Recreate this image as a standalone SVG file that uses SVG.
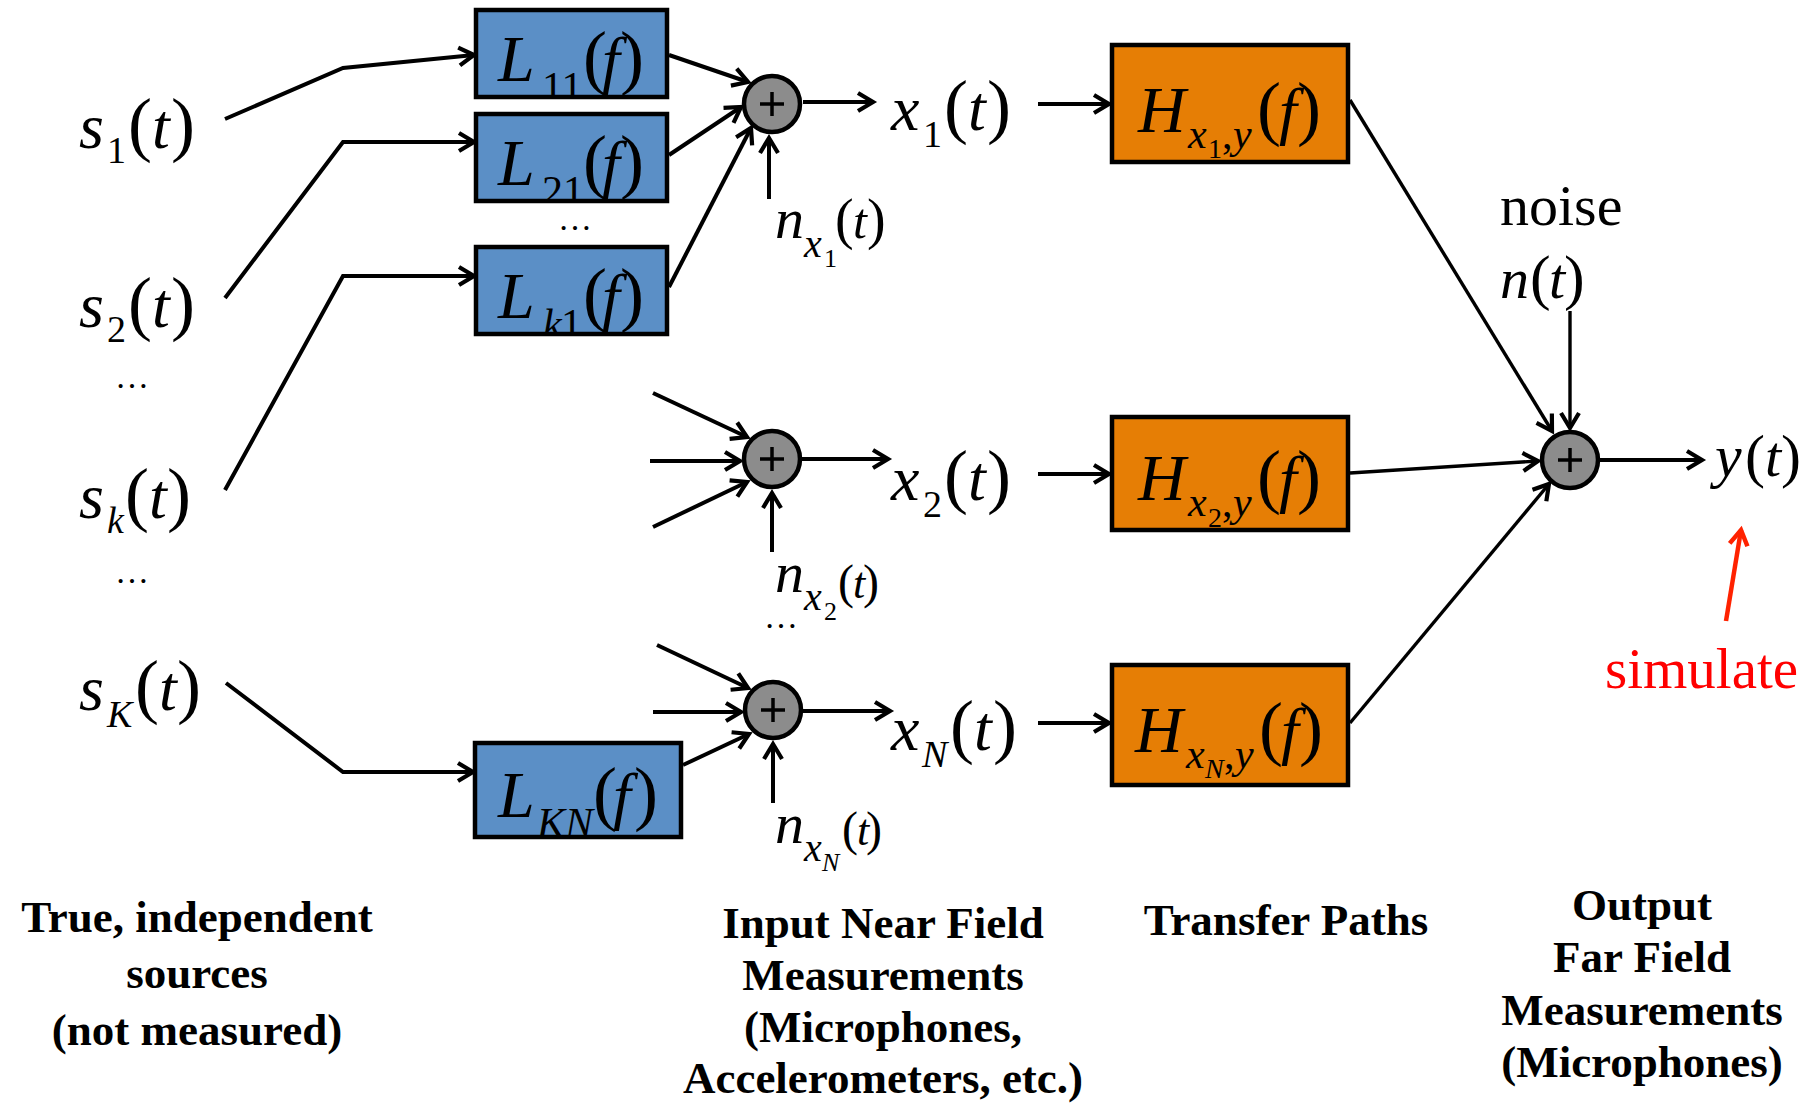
<svg xmlns="http://www.w3.org/2000/svg" width="1813" height="1108" viewBox="0 0 1813 1108">
  <defs>
    <style>
      .box{stroke:#000;stroke-width:4.5}
      .blue{fill:#5b8fc6}
      .orange{fill:#e67e05}
      .sum circle{fill:#8c8c8c;stroke:#000;stroke-width:4.5}
      .sum path{fill:none;stroke:#000;stroke-width:3.5}
      .conn{fill:none;stroke:#000;stroke-width:4;marker-end:url(#ah)}
      .thin{stroke-width:3.4}
      .red{fill:none;stroke:#ff2200;stroke-width:4.5;marker-end:url(#ahr)}
      .m{font-family:"Liberation Serif","Times New Roman",serif;font-style:italic;font-size:64px;fill:#000}
      .up{font-style:normal}
      .rm{font-family:"Liberation Serif","Times New Roman",serif;font-size:58px;fill:#000}
      .cap{font-family:"Liberation Serif","Times New Roman",serif;font-weight:bold;font-size:45px;text-anchor:middle;fill:#000}
      .dots{font-family:"Liberation Serif","Times New Roman",serif;font-size:34px;text-anchor:middle;fill:#000}
    </style>
    <marker id="ah" markerUnits="userSpaceOnUse" markerWidth="24" markerHeight="24" viewBox="-18 -12 22 24" refX="0" refY="0" orient="auto" overflow="visible">
      <path d="M-15,-9 L0,0 L-15,9" fill="none" stroke="#000" stroke-width="4.2"/>
    </marker>
    <marker id="ahr" markerUnits="userSpaceOnUse" markerWidth="24" markerHeight="24" viewBox="-18 -12 22 24" refX="0" refY="0" orient="auto" overflow="visible">
      <path d="M-15,-9 L0,0 L-15,9" fill="none" stroke="#ff2200" stroke-width="4.5"/>
    </marker>
    <clipPath id="cL11"><rect x="478" y="12" width="187" height="83"/></clipPath>
    <clipPath id="cL21"><rect x="478" y="116" width="187" height="83"/></clipPath>
    <clipPath id="cLk1"><rect x="478" y="249" width="187" height="83"/></clipPath>
    <clipPath id="cLKN"><rect x="477" y="745" width="202" height="90"/></clipPath>
    <clipPath id="cH1"><rect x="1114" y="47" width="232" height="113"/></clipPath>
    <clipPath id="cH2"><rect x="1114" y="419" width="232" height="109"/></clipPath>
    <clipPath id="cHN"><rect x="1114" y="667" width="232" height="116"/></clipPath>
  </defs>

  <rect width="1813" height="1108" fill="#fff"/>

  <!-- connectors -->
  <g id="connectors">
    <polyline class="conn" points="225,119 343,68 474,55"/>
    <polyline class="conn" points="225,298 343,142 474,142"/>
    <polyline class="conn" points="225,490 343,276 474,276"/>
    <polyline class="conn" points="226,683 343,772 473,772"/>
    <line class="conn" x1="669" y1="55" x2="748" y2="82"/>
    <line class="conn" x1="669" y1="155" x2="741" y2="107"/>
    <line class="conn" x1="669" y1="287" x2="751" y2="128"/>
    <line class="conn" x1="769" y1="199" x2="769" y2="138"/>
    <line class="conn" x1="803" y1="102" x2="873" y2="102"/>
    <line class="conn" x1="653" y1="393" x2="747" y2="437"/>
    <line class="conn" x1="650" y1="461" x2="740" y2="461"/>
    <line class="conn" x1="653" y1="527" x2="747" y2="482"/>
    <line class="conn" x1="772" y1="552" x2="772" y2="493"/>
    <line class="conn" x1="802" y1="459" x2="888" y2="459"/>
    <line class="conn" x1="657" y1="645" x2="748" y2="688"/>
    <line class="conn" x1="653" y1="712" x2="741" y2="712"/>
    <line class="conn" x1="683" y1="765" x2="749" y2="734"/>
    <line class="conn" x1="773" y1="803" x2="773" y2="744"/>
    <line class="conn" x1="803" y1="711" x2="890" y2="711"/>
    <line class="conn" x1="1038" y1="104" x2="1109" y2="104"/>
    <line class="conn" x1="1038" y1="474" x2="1109" y2="474"/>
    <line class="conn" x1="1038" y1="723" x2="1109" y2="723"/>
    <line class="conn thin" x1="1350" y1="100" x2="1552" y2="431"/>
    <line class="conn thin" x1="1350" y1="473" x2="1538" y2="461"/>
    <line class="conn thin" x1="1350" y1="723" x2="1549" y2="484"/>
    <line class="conn thin" x1="1570" y1="311" x2="1570" y2="428"/>
    <line class="conn" x1="1600" y1="460" x2="1702" y2="460"/>
    <line class="red" x1="1726" y1="621" x2="1741" y2="530"/>
  </g>

  <!-- transfer blocks L -->
  <g id="L11">
    <rect class="box blue" x="476" y="10" width="191" height="87"/>
    <text class="m" clip-path="url(#cL11)"><tspan x="498" y="81" font-size="66">L</tspan><tspan class="up" x="542" y="101" font-size="42">11</tspan><tspan class="up" x="583" y="81" font-size="72">(</tspan><tspan x="602" y="81">f</tspan><tspan class="up" x="620" y="81" font-size="72">)</tspan></text>
  </g>
  <g id="L21">
    <rect class="box blue" x="476" y="114" width="191" height="87"/>
    <text class="m" clip-path="url(#cL21)"><tspan x="498" y="185" font-size="66">L</tspan><tspan class="up" x="542" y="205" font-size="42">21</tspan><tspan class="up" x="583" y="185" font-size="72">(</tspan><tspan x="602" y="185">f</tspan><tspan class="up" x="620" y="185" font-size="72">)</tspan></text>
  </g>
  <text class="dots" x="575" y="230">…</text>
  <g id="Lk1">
    <rect class="box blue" x="476" y="247" width="191" height="87"/>
    <text class="m" clip-path="url(#cLk1)"><tspan x="498" y="318" font-size="66">L</tspan><tspan x="543" y="338" font-size="42">k</tspan><tspan class="up" x="561" y="338" font-size="42">1</tspan><tspan class="up" x="583" y="318" font-size="72">(</tspan><tspan x="602" y="318">f</tspan><tspan class="up" x="620" y="318" font-size="72">)</tspan></text>
  </g>
  <g id="LKN">
    <rect class="box blue" x="475" y="743" width="206" height="94"/>
    <text class="m" clip-path="url(#cLKN)"><tspan x="498" y="817" font-size="66">L</tspan><tspan x="537" y="837" font-size="42">KN</tspan><tspan class="up" x="593" y="817" font-size="72">(</tspan><tspan x="613" y="817">f</tspan><tspan class="up" x="634" y="817" font-size="72">)</tspan></text>
  </g>

  <!-- summing junctions -->
  <g id="sum1" class="sum"><circle cx="772" cy="104" r="28"/><path d="M760,104h24M772,92v24"/></g>
  <g id="sum2" class="sum"><circle cx="772" cy="459" r="28"/><path d="M760,459h24M772,447v24"/></g>
  <g id="sumN" class="sum"><circle cx="773" cy="710" r="28"/><path d="M761,710h24M773,698v24"/></g>
  <g id="sumOut" class="sum"><circle cx="1570" cy="460" r="28"/><path d="M1558,460h24M1570,448v24"/></g>

  <!-- transfer paths H -->
  <g id="H1">
    <rect class="box orange" x="1112" y="45" width="236" height="117"/>
    <text class="m" clip-path="url(#cH1)"><tspan x="1138" y="132" font-size="66">H</tspan><tspan x="1188" y="148" font-size="42">x</tspan><tspan class="up" x="1208" y="158" font-size="28">1</tspan><tspan class="up" x="1222" y="148" font-size="42">,</tspan><tspan x="1233" y="148" font-size="42">y</tspan><tspan class="up" x="1257" y="132" font-size="72">(</tspan><tspan x="1279" y="132">f</tspan><tspan class="up" x="1297" y="132" font-size="72">)</tspan></text>
  </g>
  <g id="H2">
    <rect class="box orange" x="1112" y="417" width="236" height="113"/>
    <text class="m" clip-path="url(#cH2)"><tspan x="1138" y="500" font-size="66">H</tspan><tspan x="1188" y="516" font-size="42">x</tspan><tspan class="up" x="1208" y="527" font-size="28">2</tspan><tspan class="up" x="1222" y="516" font-size="42">,</tspan><tspan x="1233" y="516" font-size="42">y</tspan><tspan class="up" x="1257" y="500" font-size="72">(</tspan><tspan x="1279" y="500">f</tspan><tspan class="up" x="1297" y="500" font-size="72">)</tspan></text>
  </g>
  <g id="HN">
    <rect class="box orange" x="1112" y="665" width="236" height="120"/>
    <text class="m" clip-path="url(#cHN)"><tspan x="1135" y="752" font-size="66">H</tspan><tspan x="1186" y="768" font-size="42">x</tspan><tspan x="1205" y="778" font-size="28">N</tspan><tspan class="up" x="1224" y="768" font-size="42">,</tspan><tspan x="1235" y="768" font-size="42">y</tspan><tspan class="up" x="1259" y="752" font-size="72">(</tspan><tspan x="1281" y="752">f</tspan><tspan class="up" x="1299" y="752" font-size="72">)</tspan></text>
  </g>

  <!-- sources -->
  <g id="s1"><text class="m"><tspan x="79" y="148">s</tspan><tspan class="up" x="107" y="163" font-size="38">1</tspan><tspan class="up" x="128" y="148" font-size="72">(</tspan><tspan x="152" y="148">t</tspan><tspan class="up" x="171" y="148" font-size="72">)</tspan></text></g>
  <g id="s2"><text class="m"><tspan x="79" y="327">s</tspan><tspan class="up" x="107" y="342" font-size="38">2</tspan><tspan class="up" x="128" y="327" font-size="72">(</tspan><tspan x="152" y="327">t</tspan><tspan class="up" x="171" y="327" font-size="72">)</tspan></text></g>
  <text class="dots" x="132" y="388">…</text>
  <g id="sk"><text class="m"><tspan x="79" y="518">s</tspan><tspan x="107" y="533" font-size="38">k</tspan><tspan class="up" x="125" y="518" font-size="72">(</tspan><tspan x="149" y="518">t</tspan><tspan class="up" x="167" y="518" font-size="72">)</tspan></text></g>
  <text class="dots" x="132" y="583">…</text>
  <g id="sK"><text class="m"><tspan x="79" y="710">s</tspan><tspan x="107" y="727" font-size="38">K</tspan><tspan class="up" x="135" y="710" font-size="72">(</tspan><tspan x="159" y="710">t</tspan><tspan class="up" x="177" y="710" font-size="72">)</tspan></text></g>

  <!-- near field measurements -->
  <g id="x1"><text class="m"><tspan x="891" y="130">x</tspan><tspan class="up" x="923" y="147" font-size="38">1</tspan><tspan class="up" x="944" y="130" font-size="72">(</tspan><tspan x="968" y="130">t</tspan><tspan class="up" x="987" y="130" font-size="72">)</tspan></text></g>
  <g id="x2"><text class="m"><tspan x="891" y="500">x</tspan><tspan class="up" x="923" y="517" font-size="38">2</tspan><tspan class="up" x="944" y="500" font-size="72">(</tspan><tspan x="968" y="500">t</tspan><tspan class="up" x="987" y="500" font-size="72">)</tspan></text></g>
  <g id="xN"><text class="m"><tspan x="891" y="750">x</tspan><tspan x="922" y="767" font-size="38">N</tspan><tspan class="up" x="950" y="750" font-size="72">(</tspan><tspan x="974" y="750">t</tspan><tspan class="up" x="993" y="750" font-size="72">)</tspan></text></g>

  <!-- measurement noise -->
  <g id="nx1"><text class="m"><tspan x="775" y="238" font-size="58">n</tspan><tspan x="804" y="257" font-size="40">x</tspan><tspan class="up" x="824" y="267" font-size="26">1</tspan><tspan class="up" x="835" y="238" font-size="56">(</tspan><tspan x="853" y="238" font-size="50">t</tspan><tspan class="up" x="867" y="238" font-size="56">)</tspan></text></g>
  <g id="nx2"><text class="m"><tspan x="775" y="592" font-size="58">n</tspan><tspan x="804" y="610" font-size="40">x</tspan><tspan class="up" x="824" y="620" font-size="26">2</tspan><tspan class="up" x="838" y="598" font-size="48">(</tspan><tspan x="853" y="598" font-size="44">t</tspan><tspan class="up" x="863" y="598" font-size="48">)</tspan></text></g>
  <text class="dots" x="781" y="628">…</text>
  <g id="nxN"><text class="m"><tspan x="775" y="843" font-size="58">n</tspan><tspan x="804" y="861" font-size="40">x</tspan><tspan x="822" y="871" font-size="26">N</tspan><tspan class="up" x="842" y="845" font-size="48">(</tspan><tspan x="857" y="845" font-size="44">t</tspan><tspan class="up" x="866" y="845" font-size="48">)</tspan></text></g>

  <!-- output side -->
  <g id="noise">
    <text class="rm" x="1500" y="225">noise</text>
    <text class="m"><tspan x="1500" y="298" font-size="58">n</tspan><tspan class="up" x="1530" y="298" font-size="62">(</tspan><tspan x="1549" y="298" font-size="58">t</tspan><tspan class="up" x="1564" y="298" font-size="62">)</tspan></text>
  </g>
  <g id="yt"><text class="m"><tspan x="1715" y="476" font-size="60">y</tspan><tspan class="up" x="1745" y="476" font-size="60">(</tspan><tspan x="1765" y="476" font-size="58">t</tspan><tspan class="up" x="1781" y="476" font-size="60">)</tspan></text></g>
  <g id="simulate"><text class="rm" x="1605" y="688" style="font-size:57px;fill:#ff0000">simulate</text></g>

  <!-- column captions -->
  <g id="captions">
    <text class="cap"><tspan x="197" y="932">True, independent</tspan><tspan x="197" y="988">sources</tspan><tspan x="197" y="1045">(not measured)</tspan></text>
    <text class="cap"><tspan x="883" y="938">Input Near Field</tspan><tspan x="883" y="990">Measurements</tspan><tspan x="883" y="1042">(Microphones,</tspan><tspan x="883" y="1093">Accelerometers, etc.)</tspan></text>
    <text class="cap"><tspan x="1286" y="935">Transfer Paths</tspan></text>
    <text class="cap"><tspan x="1642" y="920">Output</tspan><tspan x="1642" y="972">Far Field</tspan><tspan x="1642" y="1025">Measurements</tspan><tspan x="1642" y="1077">(Microphones)</tspan></text>
  </g>
</svg>
